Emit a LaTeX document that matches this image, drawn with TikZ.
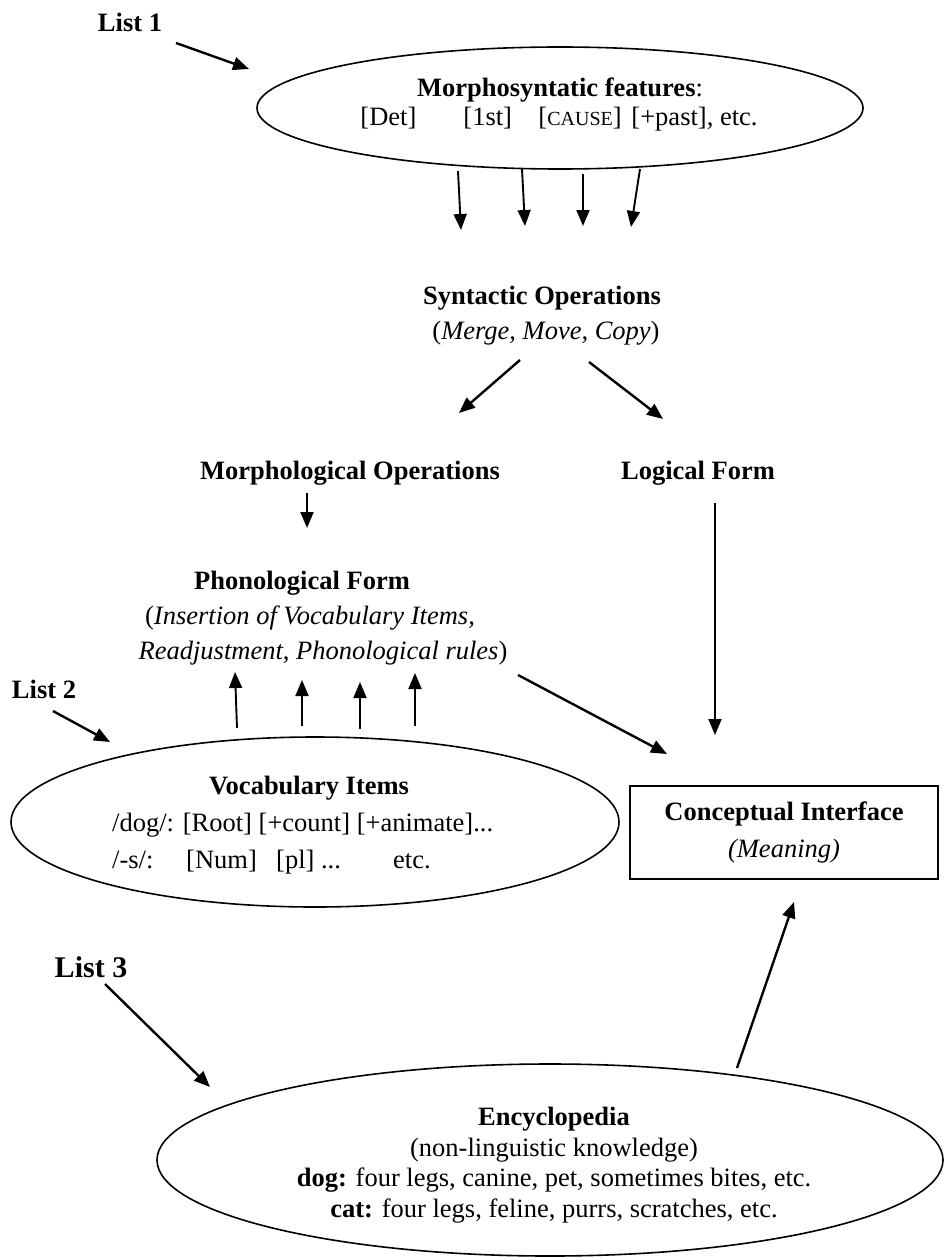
\documentclass[tikz,border=0pt]{standalone}
\usepackage{fontspec}
\setmainfont{Liberation Serif}
\usetikzlibrary{arrows.meta,shapes.geometric}

\begin{document}
\begin{tikzpicture}[x=1pt,y=-1pt,
  every node/.style={inner sep=0pt, font=\fontsize{26.5}{35}\selectfont},
  title/.style={font=\fontsize{26.5}{35}\selectfont\bfseries},
  oval/.style={draw, ellipse, line width=1.6pt, inner sep=0pt},
  arr/.style={line width=1.9pt, -{Triangle[length=16pt,width=13pt]}},
  thickarr/.style={arr, line width=2.4pt},
]
\useasboundingbox (0,0) rectangle (945,1260);

% ---- List 1: morphosyntactic features ----
\node[title] (list1) at (130,22) {List 1};
\node[oval, minimum width=606pt, minimum height=122pt] (feat) at (560,108) {};
\node (featT) at (560,90) {\textbf{Morphosyntatic features}:};
\node (featL) at (559,119) {\makebox[103pt][l]{[Det]}\makebox[75pt][l]{[1st]}\makebox[93pt][l]{[{\fontsize{20}{20}\selectfont CAUSE}]}[+past], etc.};

\coordinate (l1a) at (176,43);
\coordinate (l1b) at (249,69);
\draw[thickarr] (l1a) -- (l1b);

\coordinate (fa1) at (458,171); \coordinate (fb1) at (461,230);
\coordinate (fa2) at (522,169); \coordinate (fb2) at (525,226);
\coordinate (fa3) at (583,174); \coordinate (fb3) at (583,226);
\coordinate (fa4) at (640,169); \coordinate (fb4) at (631,227);
\foreach \i in {1,...,4} \draw[arr] (fa\i) -- (fb\i);

% ---- Syntax ----
\node[title] (syn) at (542,298) {Syntactic Operations};
\node (synS) at (546,333) {(\textit{Merge, Move, Copy})};

\coordinate (sa1) at (520,360); \coordinate (sb1) at (459,413);
\coordinate (sa2) at (589,362); \coordinate (sb2) at (663,419);
\draw[thickarr] (sa1) -- (sb1);
\draw[thickarr] (sa2) -- (sb2);

\node[title] (morph) at (350,473) {Morphological Operations};
\node[title] (lf) at (698,473) {Logical Form};

\coordinate (ma) at (307,493); \coordinate (mb) at (307,528);
\draw[arr] (ma) -- (mb);

% ---- Phonological Form ----
\node[title] (pf) at (302,583) {Phonological Form};
\node (pf2) at (310,618) {(\textit{Insertion of Vocabulary Items,}};
\node (pf3) at (323,653) {\textit{Readjustment}, \textit{Phonological rules})};

% ---- List 2: vocabulary ----
\node[title] (list2) at (44,689) {List 2};
\node[oval, minimum width=608pt, minimum height=170pt] (voc) at (315,822) {};
\node[title] (vocT) at (309,788) {Vocabulary Items};
\node[anchor=west] (voc1) at (112,825) {/dog/: [Root] [+count] [+animate]...};
\node[anchor=west] (voc2) at (112,862) {\makebox[74pt][l]{/-s/:}\makebox[90pt][l]{[Num]}\makebox[117pt][l]{[pl] ...}etc.};

\coordinate (l2a) at (53,711); \coordinate (l2b) at (110,742);
\draw[thickarr] (l2a) -- (l2b);

\coordinate (va1) at (237,728); \coordinate (vb1) at (235,672);
\coordinate (va2) at (302,726); \coordinate (vb2) at (302,680);
\coordinate (va3) at (360,729); \coordinate (vb3) at (360,682);
\coordinate (va4) at (415,726); \coordinate (vb4) at (415,673);
\foreach \i in {1,...,4} \draw[arr] (va\i) -- (vb\i);

% ---- Conceptual Interface ----
\node[draw, line width=1.6pt, minimum width=308pt, minimum height=93pt, align=center,
      font=\fontsize{26.5}{37}\selectfont] (ci) at (784,832.5)
  {\textbf{Conceptual Interface}\\\textit{(Meaning)}};

\coordinate (pfa) at (518,675); \coordinate (pfb) at (667,754);
\draw[thickarr] (pfa) -- (pfb);
\coordinate (lfa) at (715,503); \coordinate (lfb) at (715,735);
\draw[arr] (lfa) -- (lfb);

% ---- List 3: encyclopedia ----
\node[font=\fontsize{30}{35}\selectfont\bfseries] (list3) at (91,967) {List 3};
\node[oval, minimum width=786pt, minimum height=192pt] (enc) at (550,1160) {};
\node[align=center, font=\fontsize{26.5}{30.5}\selectfont] (encT) at (554,1165)
  {\textbf{Encyclopedia}\\(non-linguistic knowledge)\\
   \textbf{dog:} four legs, canine, pet, sometimes bites, etc.\\
   \textbf{cat:} four legs, feline, purrs, scratches, etc.};

\coordinate (l3a) at (105,984); \coordinate (l3b) at (210,1087);
\draw[thickarr] (l3a) -- (l3b);
\coordinate (ea) at (737,1068); \coordinate (eb) at (794,902);
\draw[thickarr] (ea) -- (eb);
\end{tikzpicture}
\end{document}
